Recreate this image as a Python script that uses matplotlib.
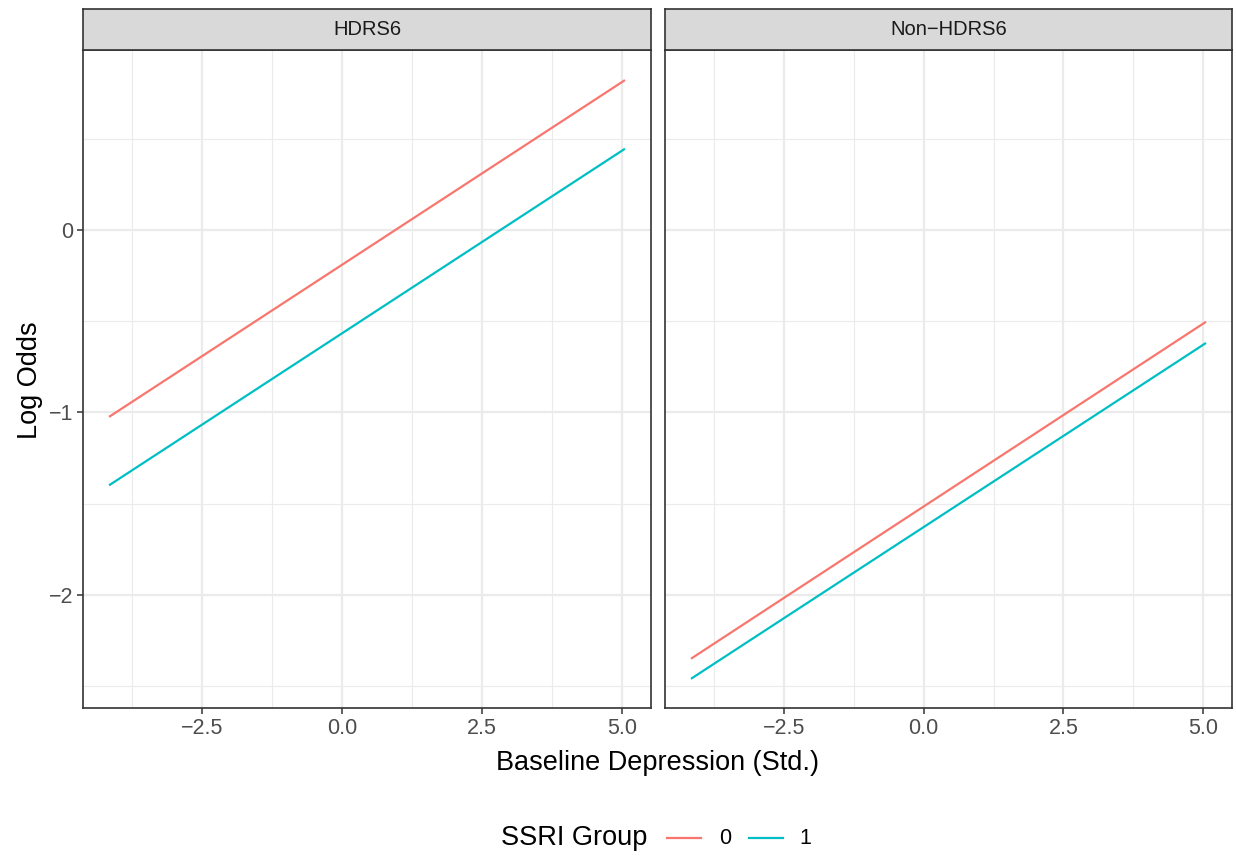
import matplotlib
matplotlib.use("Agg")
import matplotlib.pyplot as plt
from matplotlib.lines import Line2D

plt.rcParams['font.family'] = ['Liberation Sans', 'DejaVu Sans']

panels = ["HDRS6", "Non\u2212HDRS6"]
groups = ["0", "1"]
colors = ["#F8766D", "#00BFC4"]
x_range = [-4.16, 5.05]
# log odds at x_range ends, per panel, per group
hdrs6_g0 = [-1.025, 0.82]
hdrs6_g1 = [-1.40, 0.444]
non_g0 = [-2.35, -0.504]
non_g1 = [-2.46, -0.62]
panel_data = [[hdrs6_g0, hdrs6_g1], [non_g0, non_g1]]

xticks = [-2.5, 0.0, 2.5, 5.0]
xticklabels = ["\u22122.5", "0.0", "2.5", "5.0"]
yticks = [-2, -1, 0]
yticklabels = ["\u22122", "\u22121", "0"]

W, H = 1236, 857
fig = plt.figure(figsize=(W / 100, H / 100), dpi=100)

panel_px = [(83, 651), (665, 1232)]
top_px, bot_px = 50, 708
strip_top = 9

xlim = (-4.625, 5.515)
ylim = (-2.62, 0.985)
border = "#333333"

for i, (l, r) in enumerate(panel_px):
    ax = fig.add_axes([l / W, 1 - bot_px / H, (r - l) / W, (bot_px - top_px) / H])
    ax.set_xlim(*xlim)
    ax.set_ylim(*ylim)
    ax.set_xticks(xticks)
    ax.set_xticklabels(xticklabels)
    ax.set_xticks([-3.75, -1.25, 1.25, 3.75], minor=True)
    ax.set_yticks(yticks)
    ax.set_yticks([-2.5, -1.5, -0.5, 0.5], minor=True)
    ax.grid(True, which='major', color='#EBEBEB', linewidth=1.6)
    ax.grid(True, which='minor', color='#EBEBEB', linewidth=0.8)
    ax.set_axisbelow(True)
    ax.tick_params(axis='both', which='major', colors='#333333', labelcolor='#4D4D4D',
                   labelsize=15.5, length=4, width=1.1, pad=3)
    ax.tick_params(axis='both', which='minor', length=0)
    if i == 0:
        ax.set_yticklabels(yticklabels)
    else:
        ax.set_yticklabels([])
        ax.tick_params(axis='y', which='major', length=0)
    for s in ax.spines.values():
        s.set_color(border)
        s.set_linewidth(1.2)
    for g, vals in enumerate(panel_data[i]):
        ax.plot(x_range, vals, color=colors[g], linewidth=1.6, solid_capstyle='butt')
    # strip
    sax = fig.add_axes([l / W, 1 - top_px / H, (r - l) / W, (top_px - strip_top) / H])
    sax.set_xticks([])
    sax.set_yticks([])
    sax.set_facecolor('#D9D9D9')
    for s in sax.spines.values():
        s.set_color(border)
        s.set_linewidth(1.2)
    sax.text(0.5, 0.5, panels[i], ha='center', va='center', fontsize=14.5,
             color='#1A1A1A', transform=sax.transAxes)

fig.text(658 / W, 1 - 763 / H, "Baseline Depression (Std.)", ha='center', va='center',
         fontsize=19.5, color='black')
fig.text(30 / W, 1 - 380 / H, "Log Odds", ha='center', va='center', rotation=90,
         fontsize=19.5, color='black')

# legend
fig.text(574 / W, 1 - 838 / H, "SSRI Group", ha='center', va='center', fontsize=19.5)
fig.add_artist(Line2D([667 / W, 701 / W], [1 - 838 / H] * 2, color=colors[0], linewidth=1.6))
fig.text(725 / W, 1 - 838 / H, groups[0], ha='center', va='center', fontsize=15.5)
fig.add_artist(Line2D([749 / W, 783 / W], [1 - 838 / H] * 2, color=colors[1], linewidth=1.6))
fig.text(805 / W, 1 - 838 / H, groups[1], ha='center', va='center', fontsize=15.5)

fig.savefig("out.png", dpi=100)
